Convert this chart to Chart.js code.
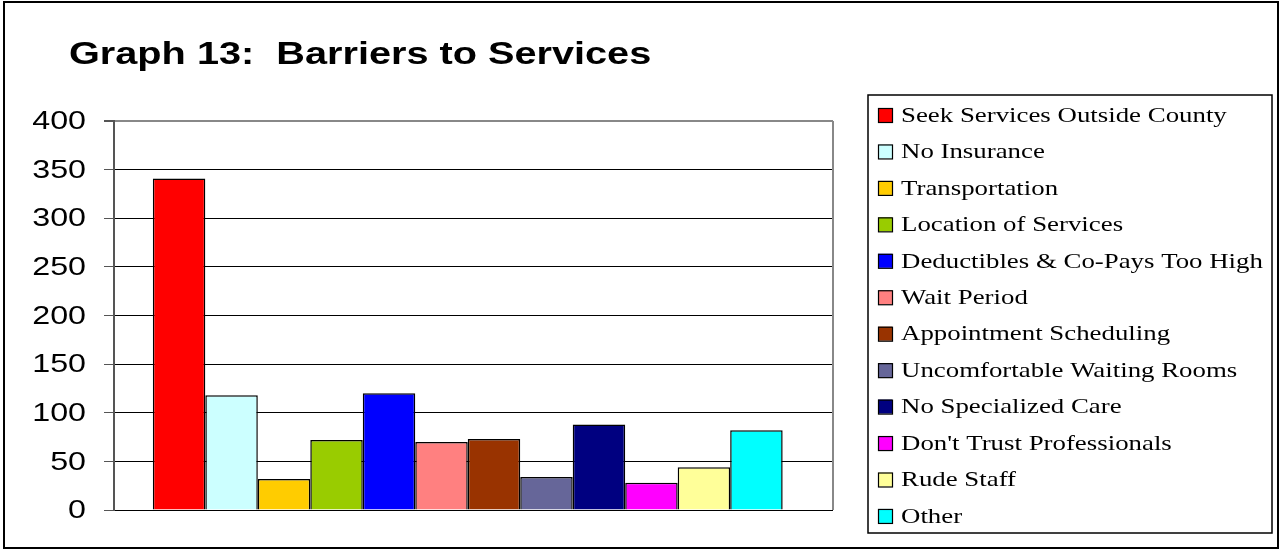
<!DOCTYPE html>
<html>
<head>
<meta charset="utf-8">
<title>Barriers to Services</title>
<script src="https://cdn.jsdelivr.net/npm/chart.js@4.4.1/dist/chart.umd.min.js"></script>
<style>
  html, body { margin: 0; padding: 0; background: #fff; }
  #wrap { position: relative; width: 1280px; height: 550px; }
</style>
</head>
<body>
<div id="wrap"><canvas id="chart"></canvas></div>
<script>
// Graph 13 data
const chartTitle = "Graph 13:  Barriers to Services";
const barriers = [
  "Seek Services Outside County",
  "No Insurance",
  "Transportation",
  "Location of Services",
  "Deductibles & Co-Pays Too High",
  "Wait Period",
  "Appointment Scheduling",
  "Uncomfortable Waiting Rooms",
  "No Specialized Care",
  "Don't Trust Professionals",
  "Rude Staff",
  "Other",
];
const responses = [341, 118, 32, 72, 120, 70, 73, 34, 88, 28, 44, 82];
const barColors = [
  "#FF0000", "#CCFFFF", "#FFCC00", "#99CC00", "#0000FF", "#FF8080",
  "#993300", "#666699", "#000080", "#FF00FF", "#FFFF99", "#00FFFF",
];
const yTicks = [0, 50, 100, 150, 200, 250, 300, 350, 400];

// the exported chart is drawn slightly wide, so text is stretched a bit
function wideText(ctx, text, x, y, stretch, align) {
  ctx.save();
  ctx.translate(x, y);
  ctx.scale(stretch, 1);
  ctx.textAlign = align || "left";
  ctx.fillText(text, 0, 0);
  ctx.restore();
}

// frame, title, y labels, plot border and boxed legend
const decorations = {
  id: "decorations",
  afterDraw(chart) {
    const ctx = chart.ctx;
    const area = chart.chartArea;
    const yScale = chart.scales.y;
    ctx.save();

    // outer frame
    ctx.strokeStyle = "#000";
    ctx.lineWidth = 2;
    ctx.strokeRect(4, 2, 1274, 546);

    // right edge of the plot area
    ctx.strokeStyle = "#888";
    ctx.lineWidth = 2;
    ctx.beginPath();
    ctx.moveTo(area.right, area.top);
    ctx.lineTo(area.right, area.bottom);
    ctx.stroke();

    // title
    ctx.fillStyle = "#000";
    ctx.font = "bold 32px 'Liberation Sans', Arial, sans-serif";
    ctx.textBaseline = "alphabetic";
    wideText(ctx, chartTitle, 69, 64, 1.24);

    // y axis labels
    ctx.font = "26px 'Liberation Sans', Arial, sans-serif";
    ctx.textBaseline = "middle";
    yTicks.forEach((v) => {
      wideText(ctx, String(v), area.left - 28, yScale.getPixelForValue(v) + 1, 1.24, "right");
    });

    // legend box
    ctx.strokeStyle = "#000";
    ctx.lineWidth = 1.5;
    ctx.strokeRect(868, 95, 404, 438);

    ctx.font = "22px 'Liberation Serif', 'Times New Roman', serif";
    ctx.textBaseline = "middle";
    chart.data.datasets.forEach((ds, i) => {
      const y = 115 + i * 36.45;
      ctx.fillStyle = ds.backgroundColor;
      ctx.fillRect(878, y - 7, 14, 14);
      ctx.strokeStyle = "#000";
      ctx.lineWidth = 1.2;
      ctx.strokeRect(878.5, y - 6.5, 14, 14);
      ctx.fillStyle = "#000";
      wideText(ctx, ds.label, 901, y + 1, 1.22);
    });
    ctx.restore();
  },
};

new Chart(document.getElementById("chart"), {
  type: "bar",
  data: {
    datasets: barriers.map((name, i) => ({
      label: name,
      data: [{ x: 0, y: responses[i] }],
      backgroundColor: barColors[i],
      borderColor: "#000",
      borderWidth: 1.5,
      barPercentage: 1,
      categoryPercentage: 0.876,
    })),
  },
  options: {
    responsive: true,
    maintainAspectRatio: false,
    animation: false,
    layout: {
      padding: { top: 121, bottom: 40, left: 10, right: 447 },
    },
    plugins: {
      legend: { display: false },
      title: { display: false },
      tooltip: { enabled: false },
    },
    scales: {
      x: {
        type: "linear",
        display: false,
        // the bar group sits a little left of the plot centre
        min: -0.492,
        max: 0.508,
        afterBuildTicks: (scale) => {
          scale.ticks = [];
        },
      },
      y: {
        min: 0,
        max: 400,
        afterBuildTicks: (scale) => {
          scale.ticks = yTicks.map((v) => ({ value: v }));
        },
        afterFit: (scale) => {
          scale.width = 104;
        },
        ticks: { display: false },
        grid: {
          color: (c) => (c.tick && c.tick.value === 400 ? "#888" : "#000"),
          lineWidth: (c) => (c.tick && c.tick.value === 400 ? 2 : 1),
          tickLength: 10,
          tickColor: "#555",
        },
        border: {
          display: true,
          color: "#555",
          width: 2,
        },
      },
    },
  },
  plugins: [decorations],
});
</script>
</body>
</html>
